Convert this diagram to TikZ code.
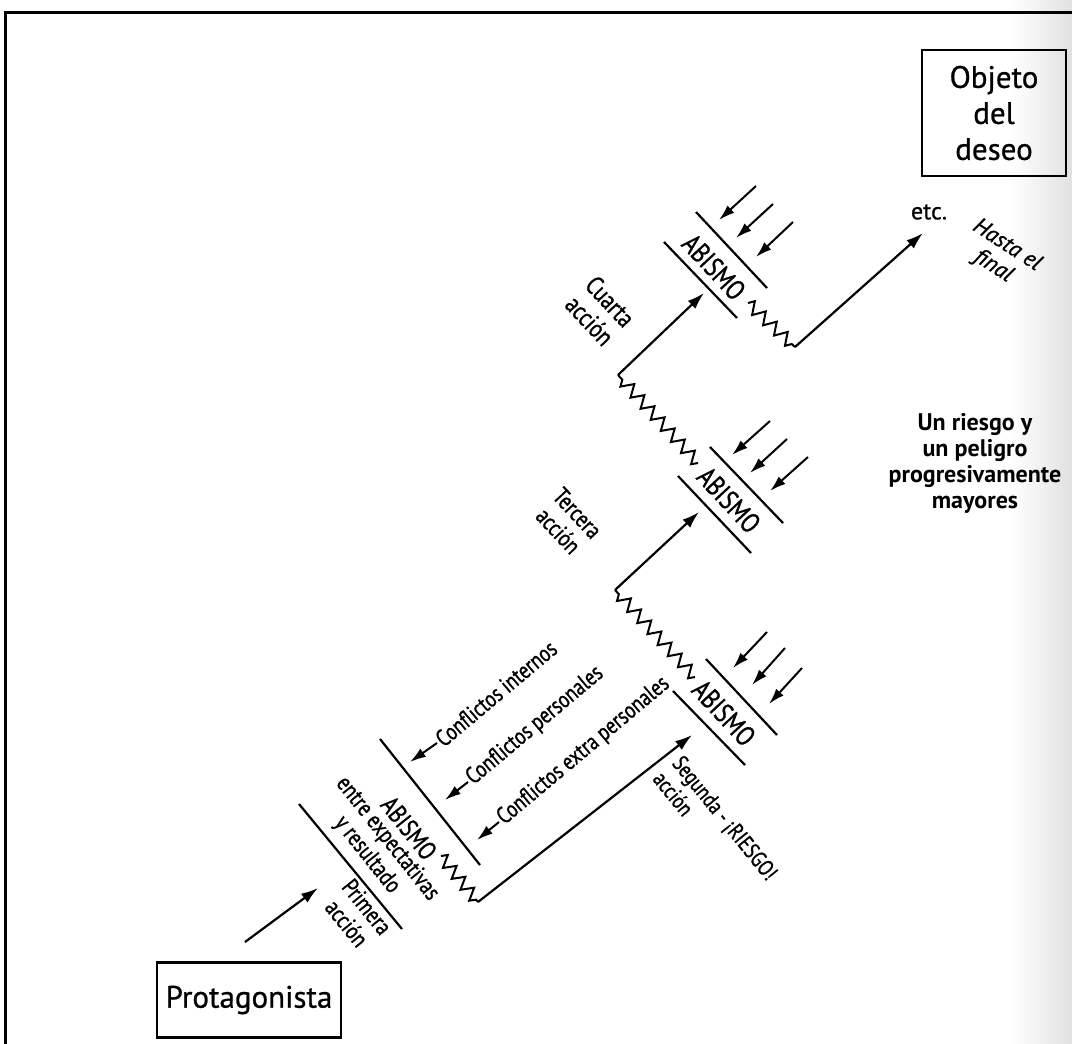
\documentclass[tikz,border=0pt]{standalone}
\usepackage{fontspec}
\setmainfont{PT Sans}
\newfontfamily\cond[FakeStretch=0.8,FakeBold=1]{PT Sans}
\newfontfamily\reg[FakeBold=0.8]{PT Sans}
\usetikzlibrary{arrows.meta,decorations.pathmorphing}
\tikzset{
  ln/.style={line width=2.2pt},
  arr/.style={line width=2.2pt,-{Latex[length=17pt,width=11pt]}},
  sarr/.style={line width=2pt,-{Latex[length=16pt,width=10pt]}},
  zz/.style={line width=2pt,decorate,decoration={zigzag,segment length=14pt,amplitude=6pt}},
  lbl/.style={font=\cond\fontsize{24}{26}\selectfont,align=center,inner sep=1pt},
  conf/.style={font=\cond\fontsize{23.5}{25}\selectfont,inner sep=2pt,rotate=40,anchor=west},
  abis/.style={font=\cond\fontsize{28}{30}\selectfont,inner sep=0pt},
  boxn/.style={draw,line width=2.2pt,inner sep=0pt,align=center}
}
\begin{document}
\begin{tikzpicture}[x=1pt,y=-1pt]
\useasboundingbox (0,0) rectangle (1072,1044);
\shade[left color=white,right color=black!12] (1012,0) rectangle (1072,1044);
% frame
\draw[line width=3pt] (5,1044) -- (5,12) -- (1072,12);

% boxes
\node[boxn,minimum width=184pt,minimum height=75pt,font=\reg\fontsize{31}{34}\selectfont] (prot) at (249,1000) {Protagonista};
\node[boxn,minimum width=144pt,minimum height=126pt,font=\reg\fontsize{31}{36}\selectfont] (obj) at (994,113) {Objeto\\del\\deseo};

% first action
\coordinate (a1s) at (245,942);
\coordinate (a1e) at (318,888);
\draw[arr] (a1s) -- (a1e);
\node[lbl,rotate=-51] (prim) at (357,915) {Primera\\acción};

% first abismo
\coordinate (l1a) at (299,804); \coordinate (l1b) at (402,929);
\coordinate (u1a) at (380,739); \coordinate (u1b) at (480,865);
\draw[ln] (l1a) -- (l1b);
\draw[ln] (u1a) -- (u1b);
\node[abis,rotate=-51.5,font=\cond\fontsize{26}{28}\selectfont] (ab1) at (409,828) {ABISMO};
\node[lbl,rotate=-51.5] (ab1b) at (377,847) {entre expectativas\\y resultado};
\coordinate (z1a) at (441,856); \coordinate (z1b) at (478,902);
\draw[zz] (z1a) -- (z1b);

% conflicts
\node[conf] (ci) at (437,743) {Conflictos internos};
\node[conf] (cp) at (468,782) {Conflictos personales};
\node[conf] (ce) at (499,822) {Conflictos extra personales};
\coordinate (cit) at (410,762);
\coordinate (cpt) at (445,800);
\coordinate (cet) at (477,840);
\draw[sarr] (ci.west) -- (cit);
\draw[sarr] (cp.west) -- (cpt);
\draw[sarr] (ce.west) -- (cet);

% second action
\coordinate (a2e) at (692,735);
\draw[arr] (z1b) -- (a2e);
\node[lbl,rotate=-51,anchor=north west,align=left,font=\cond\fontsize{22.5}{25}\selectfont] (seg) at (684,752) {Segunda - ¡RIESGO!\\acción};

% second abismo
\draw[ln] (706,659) coordinate (u2a) -- (777,735) coordinate (u2b);
\draw[ln] (673,691) coordinate (l2a) -- (745,765) coordinate (l2b);
\node[abis,rotate=-47] (ab2) at (724,713) {ABISMO};
\coordinate (z2a) at (695,677); \coordinate (z2b) at (615,590);
\draw[zz,decoration={segment length=15pt}] (z2a) -- (z2b);
\draw[sarr] (767,632) coordinate (p2a) -- (733,668) coordinate (p2at);
\draw[sarr] (785,648) coordinate (p2b) -- (752,685) coordinate (p2bt);
\draw[sarr] (802,668) coordinate (p2c) -- (769,704) coordinate (p2ct);

% third action
\coordinate (a3e) at (699,512);
\draw[arr] (z2b) -- (a3e);
\node[lbl,rotate=-47] (ter) at (568,522) {Tercera\\acción};

% third abismo
\draw[ln] (710,447) coordinate (u3a) -- (783,523) coordinate (u3b);
\draw[ln] (678,476) coordinate (l3a) -- (751,553) coordinate (l3b);
\node[abis,rotate=-47] (ab3) at (729,500) {ABISMO};
\coordinate (z3a) at (698,463); \coordinate (z3b) at (618,375);
\draw[zz,decoration={segment length=15pt}] (z3a) -- (z3b);
\draw[sarr] (770,421) coordinate (p3a) -- (732,455) coordinate (p3at);
\draw[sarr] (787,439) coordinate (p3b) -- (750,473) coordinate (p3bt);
\draw[sarr] (808,457) coordinate (p3c) -- (770,491) coordinate (p3ct);

% fourth action
\coordinate (a4e) at (704,293);
\draw[arr] (z3b) -- (a4e);
\node[lbl,rotate=-47,font=\cond\fontsize{26}{28}\selectfont] (cua) at (600,311) {Cuarta\\acción};

% fourth abismo
\draw[ln] (696,212) coordinate (u4a) -- (767,288) coordinate (u4b);
\draw[ln] (664,242) coordinate (l4a) -- (737,318) coordinate (l4b);
\node[abis,rotate=-47] (ab4) at (714,267) {ABISMO};
\coordinate (z4a) at (748,303); \coordinate (z4b) at (795,347);
\draw[zz,decoration={segment length=15pt}] (z4a) -- (z4b);
\draw[sarr] (756,186) coordinate (p4a) -- (719,220) coordinate (p4at);
\draw[sarr] (773,204) coordinate (p4b) -- (736,238) coordinate (p4bt);
\draw[sarr] (793,222) coordinate (p4c) -- (756,257) coordinate (p4ct);

% final
\coordinate (a5e) at (923,233);
\draw[arr] (z4b) -- (a5e);
\node[font=\reg\fontsize{24}{26}\selectfont,inner sep=0pt] (etc) at (929,212) {etc.};
\node[rotate=-33,align=center,inner sep=0pt,font=\reg\itshape\fontsize{23}{25}\selectfont] (hasta) at (1000,256) {Hasta el\\final};
\node[align=center,font=\bfseries\fontsize{24}{26}\selectfont,inner sep=0pt] (riesgo) at (975,463) {Un riesgo y\\un peligro\\progresivamente\\mayores};
\end{tikzpicture}
\end{document}
